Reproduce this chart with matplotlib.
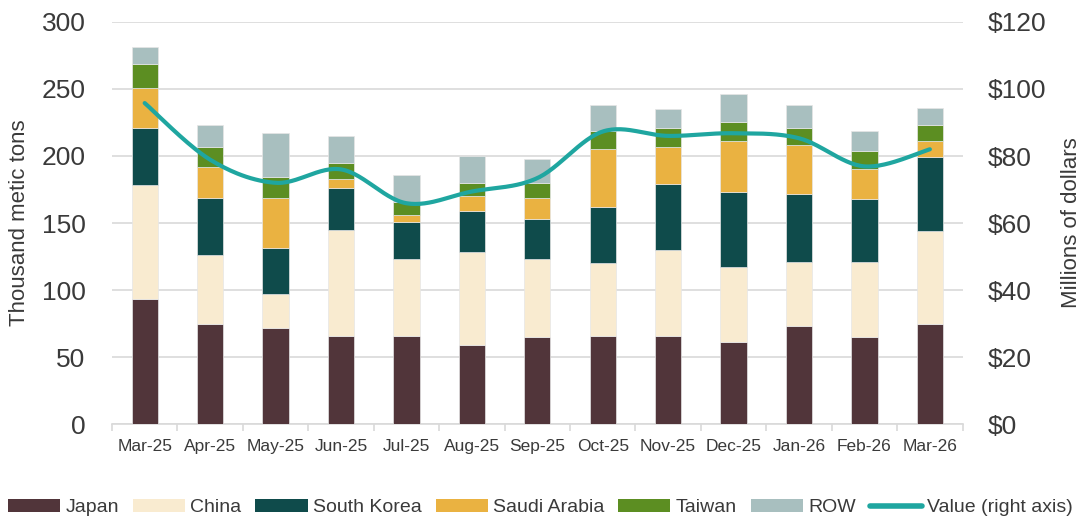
import numpy as np
import matplotlib.pyplot as plt
from matplotlib.lines import Line2D
from matplotlib.patches import Patch

plt.rcParams['font.family'] = ['Liberation Sans', 'DejaVu Sans']

# Data
months = ["Mar-25", "Apr-25", "May-25", "Jun-25", "Jul-25", "Aug-25", "Sep-25",
          "Oct-25", "Nov-25", "Dec-25", "Jan-26", "Feb-26", "Mar-26"]
japan = [93, 75, 72, 66, 66, 59, 65, 66, 66, 61, 73, 65, 75]
china = [85, 51, 25, 79, 57, 69, 58, 54, 64, 56, 48, 56, 69]
south_korea = [43, 43, 34, 31, 28, 31, 30, 42, 49, 56, 51, 47, 55]
saudi_arabia = [30, 23, 38, 7, 5, 11, 16, 43, 28, 38, 36, 22, 12]
taiwan = [18, 15, 15, 12, 10, 10, 11, 14, 14, 14, 13, 14, 12]
row = [12, 16, 33, 20, 20, 20, 18, 19, 14, 21, 17, 15, 13]
value = [95.8, 78.9, 72.0, 76.0, 65.9, 69.4, 73.4, 87.3, 86.0, 86.8, 85.3, 76.9, 82.0]

series = [
    ("Japan", japan, "#51353A"),
    ("China", china, "#F9EBD0"),
    ("South Korea", south_korea, "#0F4B4B"),
    ("Saudi Arabia", saudi_arabia, "#EAB241"),
    ("Taiwan", taiwan, "#5C8E22"),
    ("ROW", row, "#A8BFBF"),
]
LINE_COLOR = "#1FA6A0"
GRID = "#D9D9D9"
TEXT = "#3A3A3A"


def smooth_curve(x, y, steps=30):
    """Catmull-Rom style smoothing (similar to a spreadsheet 'smoothed line')."""
    x = np.asarray(x, float)
    y = np.asarray(y, float)
    px = np.concatenate([[x[0]], x, [x[-1]]])
    py = np.concatenate([[y[0]], y, [y[-1]]])
    out_x, out_y = [], []
    t = np.linspace(0, 1, steps)
    for i in range(1, len(px) - 2):
        p0 = np.array([px[i], py[i]])
        p3 = np.array([px[i + 1], py[i + 1]])
        p1 = p0 + (np.array([px[i + 1], py[i + 1]]) - np.array([px[i - 1], py[i - 1]])) / 6
        p2 = p3 - (np.array([px[i + 2], py[i + 2]]) - np.array([px[i], py[i]])) / 6
        b = ((1 - t) ** 3)[:, None] * p0 + (3 * (1 - t) ** 2 * t)[:, None] * p1 \
            + (3 * (1 - t) * t ** 2)[:, None] * p2 + (t ** 3)[:, None] * p3
        out_x.extend(b[:, 0])
        out_y.extend(b[:, 1])
    return np.array(out_x), np.array(out_y)


fig = plt.figure(figsize=(10.84, 5.2), dpi=100)
ax = fig.add_axes([0.1033, 0.1846, 0.7847, 0.7731])
x = np.arange(len(months))

# Stacked bars
bottom = np.zeros(len(months))
for name, vals, color in series:
    ax.bar(x, vals, width=0.4, bottom=bottom, color=color, edgecolor="#E6E6E6",
           linewidth=0.5, zorder=3, label=name)
    bottom += np.array(vals)

ax.set_xlim(-0.5, len(months) - 0.5)
ax.set_ylim(0, 300)
ax.set_yticks(np.arange(0, 301, 50))
ax.yaxis.grid(True, color=GRID, linewidth=1.2, zorder=0)
ax.set_axisbelow(True)
for s in ["top", "right", "left"]:
    ax.spines[s].set_visible(False)
ax.spines["bottom"].set_color(GRID)
ax.spines["bottom"].set_linewidth(1.2)
ax.set_xticks(x)
ax.set_xticklabels(months, fontsize=12.5, color=TEXT)
ax.set_xticks(np.arange(-0.5, len(months), 1), minor=True)
ax.tick_params(axis="x", which="major", length=0, pad=11)
ax.tick_params(axis="x", which="minor", length=5, color=GRID, width=1.2)
ax.tick_params(axis="y", length=0, labelsize=19, labelcolor=TEXT, pad=19)
ax.set_ylabel("Thousand metic tons", fontsize=16, color=TEXT, labelpad=8)

# Value line on secondary axis
ax2 = ax.twinx()
ax2.set_ylim(0, 120)
ax2.set_yticks(np.arange(0, 121, 20))
ax2.set_yticklabels([f"${v}" for v in range(0, 121, 20)])
ax2.tick_params(axis="y", length=0, labelsize=19, labelcolor=TEXT, pad=18)
for s in ["top", "right", "left", "bottom"]:
    ax2.spines[s].set_visible(False)
sx, sy = smooth_curve(x, value)
ax2.plot(sx, sy, color=LINE_COLOR, linewidth=3, solid_capstyle="round", zorder=5)
ax2.set_ylabel("Millions of dollars", fontsize=16, color=TEXT, labelpad=11)

# Legend
handles = [Patch(facecolor=c, edgecolor="none", label=n) for n, _, c in series]
handles.append(Line2D([0], [0], color=LINE_COLOR, linewidth=4, solid_capstyle="round",
                      label="Value (right axis)"))
fig.legend(handles=handles, loc="center", bbox_to_anchor=(0.4986, 0.024), ncol=7,
           frameon=False, fontsize=14, handlelength=2.68, handleheight=0.62,
           handletextpad=0.27, columnspacing=0.72, labelcolor=TEXT,
           borderpad=0, borderaxespad=0)

fig.savefig("out.png", dpi=100)
